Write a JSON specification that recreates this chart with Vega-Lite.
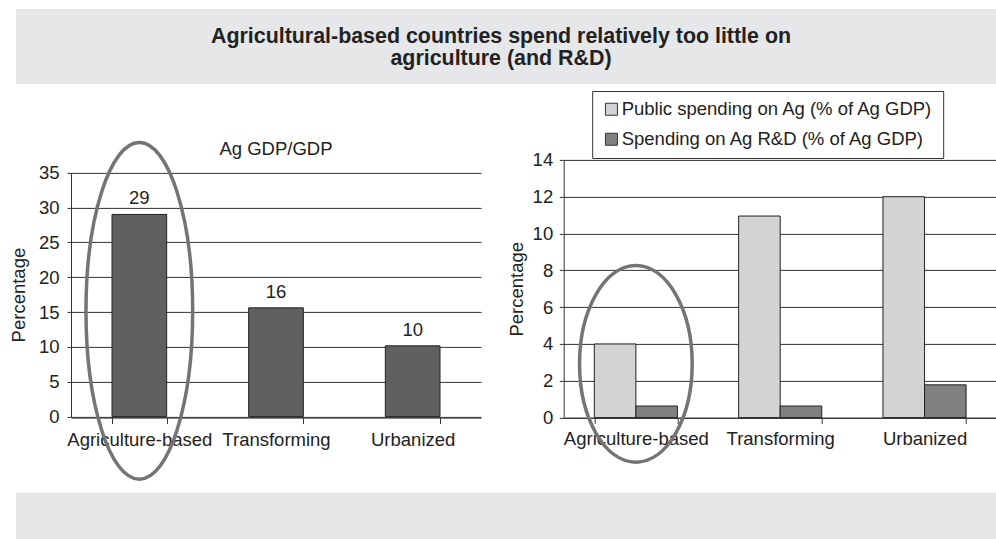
{
  "$schema": "https://vega.github.io/schema/vega-lite/v6.json",
  "padding": {"left": 9, "top": 9, "right": 0, "bottom": 0},
  "background": "white",
  "config": {
    "font": "Liberation Sans",
    "view": {"stroke": null},
    "axis": {
      "labelFont": "Liberation Sans", "labelFontSize": 18.5, "labelColor": "#222",
      "titleFont": "Liberation Sans", "titleFontSize": 18.5, "titleFontWeight": "normal", "titleColor": "#222",
      "domainColor": "#333", "tickColor": "#333", "gridColor": "#333", "gridOpacity": 1, "gridWidth": 1, "domainWidth": 1, "tickWidth": 1
    }
  },
  "columns": 1,
  "align": "none",
  "spacing": 5.7,
  "concat": [
    {
      "columns": 1,
      "align": "none",
      "spacing": 49.9,
      "concat": [
        {
          "width": 926, "height": 75.3,
          "data": {"values": [{"title": "Agricultural-based countries spend relatively too little on\nagriculture (and R&D)"}]},
          "layer": [
            {
              "mark": {"type": "rect", "color": "#e6e7e9", "opacity": 1},
              "encoding": {
                "x": {"datum": 0, "type": "quantitative", "scale": {"domain": [0, 1], "range": [-55, 926]}, "axis": null},
                "x2": {"datum": 1},
                "y": {"datum": 0, "type": "quantitative", "scale": {"domain": [0, 1]}, "axis": null},
                "y2": {"datum": 1}
              }
            },
            {
              "mark": {"type": "text", "fontSize": 21.4, "fontWeight": "bold", "color": "#222", "lineBreak": "\n", "lineHeight": 22.3, "baseline": "alphabetic", "align": "center"},
              "encoding": {
                "x": {"datum": 0.4944, "type": "quantitative"},
                "y": {"datum": 0.548, "type": "quantitative"},
                "text": {"field": "title"}
              }
            }
          ]
        },
        {
          "bounds": "flush",
          "spacing": 82.7,
          "hconcat": [
            {
              "width": 410, "height": 257.7,
              "data": {"values": [
                {"Group": "Agriculture-based", "Share": 29.0},
                {"Group": "Transforming", "Share": 15.6},
                {"Group": "Urbanized", "Share": 10.15}
              ]},
              "encoding": {
                "x": {"field": "Group", "type": "nominal",
                  "scale": {"domain": ["Agriculture-based", "Transforming", "Urbanized"], "paddingInner": 0.6, "paddingOuter": 0.3},
                  "axis": {"title": null, "labelAngle": 0, "tickBand": "extent", "tickSize": 6, "labelPadding": 7, "grid": false, "labelOverlap": false}}
              },
              "layer": [
                {
                  "mark": {"type": "bar", "color": "#606060", "stroke": "#222", "strokeWidth": 1},
                  "encoding": {
                    "y": {"field": "Share", "type": "quantitative",
                      "scale": {"domain": [0, 35], "nice": false, "range": [256.7, 12.7]},
                      "axis": {"values": [0, 5, 10, 15, 20, 25, 30, 35], "tickCount": 12, "labelOverlap": false, "title": "Percentage", "titlePadding": 10, "tickSize": 4, "labelPadding": 8, "grid": true}}
                  }
                },
                {
                  "mark": {"type": "text", "baseline": "alphabetic", "dy": -10, "fontSize": 18.5, "color": "#222"},
                  "encoding": {
                    "y": {"field": "Share", "type": "quantitative"},
                    "text": {"field": "Share", "type": "quantitative", "format": ".0f"}
                  }
                },
                {
                  "data": {"values": [{"Heading": "Ag GDP/GDP", "Group": "Transforming"}]},
                  "mark": {"type": "text", "baseline": "alphabetic", "dy": -17.7, "fontSize": 18.5, "color": "#222"},
                  "encoding": {
                    "y": {"datum": 35},
                    "text": {"field": "Heading"}
                  }
                },
                {
                  "data": {"values": [{}]},
                  "mark": {"type": "point", "shape": "M 0 -1 C 0.1751 -1 0.317 -0.5523 0.317 0 C 0.317 0.5523 0.1751 1 0 1 C -0.1751 1 -0.317 0.5523 -0.317 0 C -0.317 -0.5523 -0.1751 -1 0 -1 Z", "size": 113300, "filled": false, "color": "#747474", "stroke": "#747474", "strokeWidth": 3.5, "opacity": 1},
                  "encoding": {
                    "x": {"datum": "Agriculture-based"},
                    "y": {"datum": 15.16}
                  }
                }
              ]
            },
            {
              "width": 433, "height": 257.7,
              "data": {"values": [
                {"Group": "Agriculture-based", "Series": "Public spending on Ag (% of Ag GDP)", "Value": 4.0},
                {"Group": "Agriculture-based", "Series": "Spending on Ag R&D (% of Ag GDP)", "Value": 0.63},
                {"Group": "Transforming", "Series": "Public spending on Ag (% of Ag GDP)", "Value": 10.95},
                {"Group": "Transforming", "Series": "Spending on Ag R&D (% of Ag GDP)", "Value": 0.63},
                {"Group": "Urbanized", "Series": "Public spending on Ag (% of Ag GDP)", "Value": 12.0},
                {"Group": "Urbanized", "Series": "Spending on Ag R&D (% of Ag GDP)", "Value": 1.78}
              ]},
              "encoding": {
                "x": {"field": "Group", "type": "nominal",
                  "scale": {"domain": ["Agriculture-based", "Transforming", "Urbanized"], "paddingInner": 0.424, "paddingOuter": 0.212},
                  "axis": {"title": null, "labelAngle": 0, "tickBand": "extent", "tickSize": 6, "labelPadding": 6, "grid": false, "labelOverlap": false}}
              },
              "layer": [
                {
                  "mark": {"type": "bar", "stroke": "#222", "strokeWidth": 1},
                  "encoding": {
                    "xOffset": {"field": "Series", "type": "nominal", "sort": ["Public spending on Ag (% of Ag GDP)", "Spending on Ag R&D (% of Ag GDP)"], "scale": {"paddingInner": 0, "paddingOuter": 0}},
                    "y": {"field": "Value", "type": "quantitative",
                      "scale": {"domain": [0, 14], "nice": false},
                      "axis": {"values": [0, 2, 4, 6, 8, 10, 12, 14], "tickCount": 12, "labelOverlap": false, "title": "Percentage", "titlePadding": 6, "tickSize": 4.4, "labelPadding": 6.6, "grid": true}},
                    "color": {"field": "Series", "type": "nominal",
                      "scale": {"domain": ["Public spending on Ag (% of Ag GDP)", "Spending on Ag R&D (% of Ag GDP)"], "range": ["#d3d3d5", "#808080"]},
                      "legend": {"title": null, "orient": "none", "legendX": 521.2, "legendY": 82, "direction": "vertical",
                        "symbolType": "square", "symbolSize": 144, "symbolStrokeColor": "#333", "symbolStrokeWidth": 1, "symbolOpacity": 1, "symbolOffset": 1,
                        "labelFont": "Liberation Sans", "labelFontSize": 18.5, "labelColor": "#222", "labelLimit": 400, "labelOffset": 1,
                        "strokeColor": "#333", "padding": 9, "rowPadding": 11, "fillColor": "white"}}
                  }
                },
                {
                  "data": {"values": [{}]},
                  "mark": {"type": "point", "shape": "M 0 -1 C 0.3165 -1 0.573 -0.5523 0.573 0 C 0.573 0.5523 0.3165 1 0 1 C -0.3165 1 -0.573 0.5523 -0.573 0 C -0.573 -0.5523 -0.3165 -1 0 -1 Z", "size": 38652, "filled": false, "color": "#747474", "stroke": "#747474", "strokeWidth": 3.5, "opacity": 1},
                  "encoding": {
                    "x": {"datum": "Agriculture-based"},
                    "y": {"datum": 2.92}
                  }
                }
              ]
            }
          ]
        }
      ]
    },
    {
      "width": 926, "height": 46.3,
      "data": {"values": [{}]},
      "mark": {"type": "rect", "color": "#e6e7e9", "opacity": 1},
      "encoding": {
        "x": {"datum": 0, "type": "quantitative", "scale": {"domain": [0, 1], "range": [-55, 926]}, "axis": null},
        "x2": {"datum": 1},
        "y": {"datum": 0, "type": "quantitative", "scale": {"domain": [0, 1]}, "axis": null},
        "y2": {"datum": 1}
      }
    }
  ]
}
